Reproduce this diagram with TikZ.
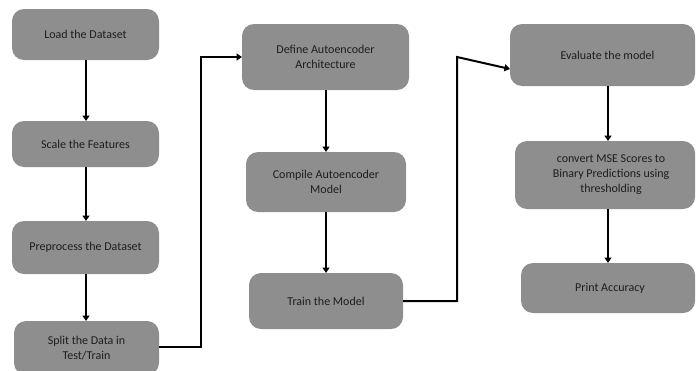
\documentclass[tikz,border=0pt]{standalone}
\usepackage{fontspec}
\setmainfont{Carlito}
\usetikzlibrary{arrows.meta,calc}
\definecolor{boxgray}{HTML}{8E8E8E}
\definecolor{boxtext}{HTML}{1E1E1E}
\tikzset{
  stepbox/.style={draw=none, fill=boxgray, rounded corners=12pt,
    text=boxtext, font=\fontsize{12}{15}\selectfont, align=center,
    inner sep=0pt, outer sep=0pt},
  arr/.style={line width=2pt, -{Triangle[length=5.5pt,width=7pt]}},
}
\begin{document}
\begin{tikzpicture}[x=1pt,y=-1pt]
\useasboundingbox (0,0) rectangle (696,370);
\clip (0,0) rectangle (696,370);

% left column: data preparation
\node[stepbox, minimum width=147pt, minimum height=51pt] (load) at (85.5,34.5) {Load the Dataset};
\node[stepbox, minimum width=147pt, minimum height=46pt] (scale) at (85.5,144) {Scale the Features};
\node[stepbox, minimum width=147pt, minimum height=53pt] (prep) at (85.5,247.5) {Preprocess the Dataset};
\node[stepbox, minimum width=145pt, minimum height=54pt] (split) at (86.5,348) {Split the Data in\\Test/Train};

% middle column: model building
\node[stepbox, minimum width=167pt, minimum height=66pt] (define) at (325.5,57) {Define Autoencoder\\Architecture};
\node[stepbox, minimum width=160pt, minimum height=60pt] (compile) at (326,182) {Compile Autoencoder\\Model};
\node[stepbox, minimum width=154pt, minimum height=56pt] (train) at (326,301) {Train the Model};

% right column: evaluation
\node[stepbox, minimum width=185pt, minimum height=62pt] (eval) at (602.5,55) {\hspace*{10pt}Evaluate the model};
\node[stepbox, minimum width=180pt, minimum height=68pt] (conv) at (605,175) {\hspace*{12pt}convert MSE Scores to\\\hspace*{12pt}Binary Predictions using\\\hspace*{12pt}thresholding};
\node[stepbox, minimum width=174pt, minimum height=50pt] (prn) at (608,288) {\hspace*{4pt}Print Accuracy};

% bend points of the column links
\coordinate (k1) at (201,57);
\coordinate (k2) at (457,57);
\coordinate (rx) at (608,0);

% arrows within the columns
\draw[arr] (load.south -| 86,0) -- (scale.north -| 86,0);
\draw[arr] (scale.south -| 86,0) -- (prep.north -| 86,0);
\draw[arr] (prep.south -| 86,0) -- (split.north -| 86,0);
\draw[arr] (define.south -| 326,0) -- (compile.north -| 326,0);
\draw[arr] (compile.south) -- (train.north);
\draw[arr] (eval.south -| rx) -- (conv.north -| rx);
\draw[arr] (conv.south -| rx) -- (prn.north);

% links between the columns
\draw[arr] (split.east |- 0,347) -- (k1 |- 0,347) -- (k1) -- (define.west);
\draw[arr] (train.east) -- (train.east -| k2) -- (k2) -- ($(eval.west)+(0,14)$);
\end{tikzpicture}
\end{document}
